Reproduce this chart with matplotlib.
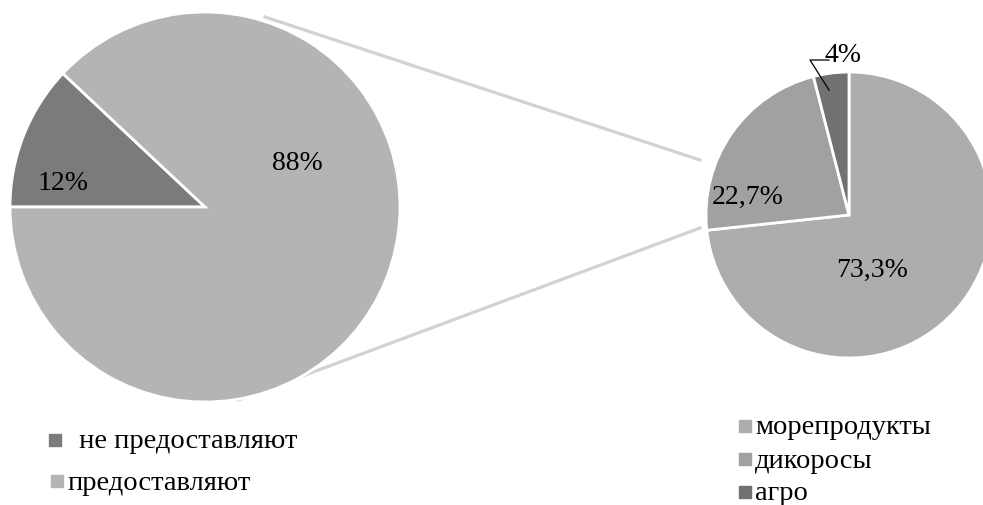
import matplotlib.pyplot as plt

plt.rcParams['font.family'] = ['Liberation Serif', 'DejaVu Serif']

# левая диаграмма
main_labels = ['не предоставляют', 'предоставляют']
main_values = [12, 88]
main_text = ['12%', '88%']
main_colors = ['#7b7b7b', '#b4b4b4']

# правая диаграмма
sub_labels = ['морепродукты', 'дикоросы', 'агро']
sub_values = [73.3, 22.7, 4]
sub_text = ['73,3%', '22,7%', '4%']
sub_colors = ['#adadad', '#a1a1a1', '#717171']

W, H = 983, 505
fig = plt.figure(figsize=(W / 100, H / 100), dpi=100)
ax = fig.add_axes([0, 0, 1, 1])

c1, r1 = (205, H - 207), 195
c2, r2 = (849, H - 215), 143

# соединительные линии
ax.plot([265, 700], [H - 17, H - 160], color='#d2d2d2', lw=2.3, zorder=0)
ax.plot([238, 700], [H - 400, H - 228], color='#d2d2d2', lw=2.3, zorder=0)

ax.pie(main_values, colors=main_colors, startangle=180, counterclock=False,
       center=c1, radius=r1, frame=True,
       wedgeprops=dict(edgecolor='white', linewidth=2))
ax.pie(sub_values, colors=sub_colors, startangle=90, counterclock=False,
       center=c2, radius=r2, frame=True,
       wedgeprops=dict(edgecolor='white', linewidth=2))
ax.set_xlim(0, W)
ax.set_ylim(0, H)
ax.set_aspect('equal')
ax.axis('off')

fs = 20
ax.text(63, H - 183, main_text[0], fontsize=fs, ha='center', va='center')
ax.text(297, H - 163, main_text[1], fontsize=fs, ha='center', va='center')
ax.text(872, H - 270, sub_text[0], fontsize=fs, ha='center', va='center')
ax.text(748, H - 197, sub_text[1], fontsize=fs, ha='center', va='center')
ax.text(843, H - 55, sub_text[2], fontsize=fs, ha='center', va='center')
ax.plot([829, 810, 829], [H - 90, H - 60, H - 60], color='black', lw=0.9)

# легенды
lfs = 20.5
ax.scatter([55], [H - 440], marker='s', s=70, color=main_colors[0])
ax.text(72, H - 442, ' ' + main_labels[0], fontsize=lfs, va='center')
ax.scatter([57], [H - 481], marker='s', s=70, color=main_colors[1])
ax.text(67, H - 483, main_labels[1], fontsize=lfs, va='center')

for i, lab in enumerate(sub_labels):
    y = H - (426 + 33 * i)
    ax.scatter([745], [y], marker='s', s=70, color=sub_colors[i])
    ax.text(755, y - 2, lab, fontsize=lfs, va='center')

fig.savefig('out.png', dpi=100)
